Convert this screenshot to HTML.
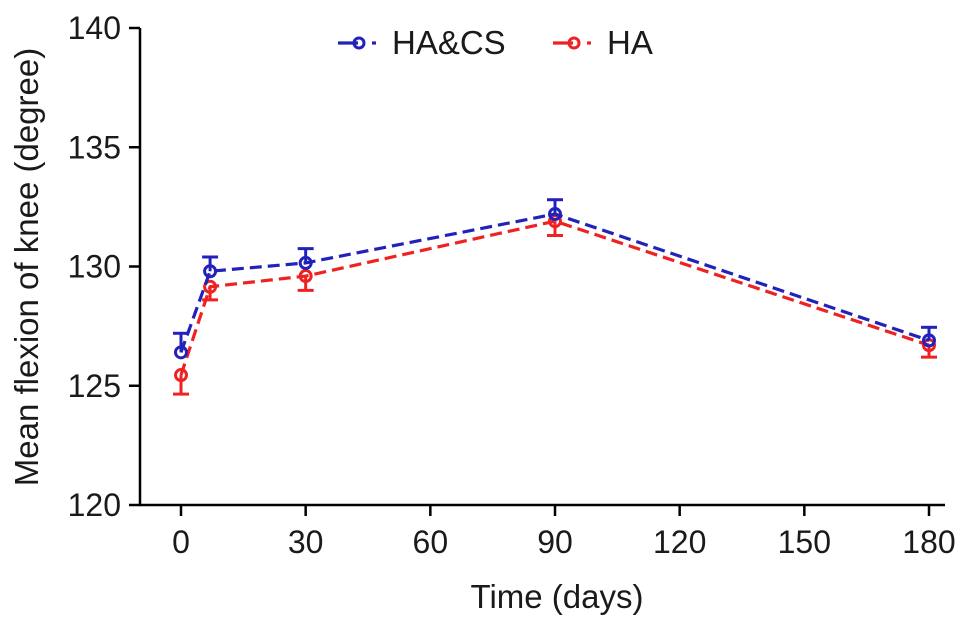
<!DOCTYPE html>
<html><head><meta charset="utf-8"><style>
body{margin:0;background:#fff;}
svg{display:block;font-family:"Liberation Sans",Arial,sans-serif;}
</style></head><body>
<svg id="c" width="969" height="626" viewBox="0 0 969 626"></svg>
<script>
const days=[0,7,30,90,180];
const hacsVals=[126.4,129.8,130.15,132.2,126.9];
const hacsErr=[0.8,0.6,0.6,0.6,0.55];
const haVals=[125.45,129.15,129.6,131.9,126.7];
const haErr=[0.8,0.55,0.6,0.6,0.5];
const xTicks=[0,30,60,90,120,150,180];
const yTicks=[120,125,130,135,140];
const seriesNames=["HA&CS","HA"];

const svg=document.getElementById('c');
const NS='http://www.w3.org/2000/svg';
const X=d=>181+(d/180)*748;
const Y=v=>505-(v-120)/20*477;
function mk(t,a,p){const e=document.createElementNS(NS,t);for(const k in a)e.setAttribute(k,a[k]);(p||svg).appendChild(e);return e;}

const axes=mk('g',{});


mk('line',{x1:140,y1:28,x2:140,y2:506,stroke:'#000','stroke-width':2.5},axes);
mk('line',{x1:139,y1:505,x2:945,y2:505,stroke:'#000','stroke-width':2.5},axes);
yTicks.forEach(v=>{
  mk('line',{x1:129,y1:Y(v),x2:140,y2:Y(v),stroke:'#000','stroke-width':2.5},axes);
  const t=mk('text',{x:121,y:Y(v)+11,'text-anchor':'end','font-size':32,fill:'#1a1a1a'},axes);
  t.textContent=v;
  
  
});
xTicks.forEach(d=>{
  mk('line',{x1:X(d),y1:505,x2:X(d),y2:516,stroke:'#000','stroke-width':2.5},axes);
  const t=mk('text',{x:X(d),y:553,'text-anchor':'middle','font-size':32,fill:'#1a1a1a'},axes);
  t.textContent=d;
  
  
});
const xt=mk('text',{x:557,y:608,'text-anchor':'middle','font-size':33,fill:'#1a1a1a'});
xt.textContent='Time (days)';


const yt=mk('text',{x:0,y:0,transform:'translate(38,267) rotate(-90)','text-anchor':'middle','font-size':33,fill:'#1a1a1a'});
yt.textContent='Mean flexion of knee (degree)';



function series(vals,err,col,name,up){
  const g=mk('g',{});
  
  
  mk('polyline',{points:days.map((d,i)=>X(d)+','+Y(vals[i])).join(' '),fill:'none',stroke:col,'stroke-width':3.2,'stroke-dasharray':'12,6'},g);
  days.forEach((d,i)=>{
    const x=X(d),y=Y(vals[i]),ye=Y(vals[i]+(up?err[i]:-err[i]));
    const eb=mk('g',{},g);
    
    
    mk('line',{x1:x,y1:y,x2:x,y2:ye,stroke:col,'stroke-width':3},eb);
    mk('line',{x1:x-8,y1:ye,x2:x+8,y2:ye,stroke:col,'stroke-width':3},eb);
    const c=mk('circle',{cx:x,cy:y,r:5.5,fill:'none',stroke:col,'stroke-width':3},g);
    
    
  });
}
series(haVals,haErr,'#ee2222','ha',false);
series(hacsVals,hacsErr,'#2222bb','ha-cs',true);

function legend(x,col,label,name){
  const g=mk('g',{});
  
  
  mk('line',{x1:x,y1:43,x2:x+20,y2:43,stroke:col,'stroke-width':3.2},g);
  mk('line',{x1:x+34,y1:43,x2:x+38,y2:43,stroke:col,'stroke-width':3.2},g);
  mk('circle',{cx:x+21,cy:43,r:5,fill:'none',stroke:col,'stroke-width':3},g);
  const t=mk('text',{x:x+54,y:54,'font-size':33,fill:'#1a1a1a'},g);
  t.textContent=label;
}
legend(338,'#2222bb',seriesNames[0],'legend-entry-ha-cs');
legend(553,'#ee2222',seriesNames[1],'legend-entry-ha');
</script>
</body></html>
